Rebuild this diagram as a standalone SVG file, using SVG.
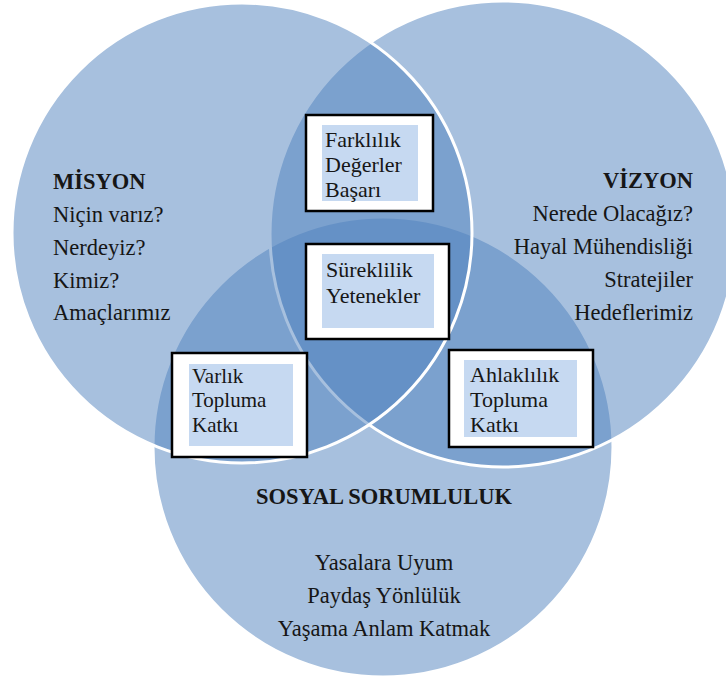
<svg xmlns="http://www.w3.org/2000/svg" width="726" height="678" viewBox="0 0 726 678">
<style>
.c{fill:#4F81BD;fill-opacity:0.5;stroke:#FFFFFF;stroke-width:3}
.t{font-size:22.5px;fill:#161616}
.h{font-weight:bold}
.bo{fill:#FFFFFF;stroke:#000000;stroke-width:2.5}
.bi{fill:#C6D9F1}
.bt{font-size:22px;fill:#161616}
</style>
<rect width="726" height="678" fill="#FFFFFF"/>
<g font-family="'Liberation Serif', 'Times New Roman', Times, 'DejaVu Serif', serif">
<g id="sosyal-sorumluluk">
<circle class="c" cx="383" cy="447" r="230"/>
<text class="t h" x="384" y="504" text-anchor="middle">SOSYAL SORUMLULUK</text>
<text class="t" x="384" y="570" text-anchor="middle">Yasalara Uyum</text>
<text class="t" x="384" y="603" text-anchor="middle">Paydaş Yönlülük</text>
<text class="t" x="384" y="636" text-anchor="middle">Yaşama Anlam Katmak</text>
</g>
<g id="vizyon">
<circle class="c" cx="503" cy="234" r="233"/>
<text class="t h" x="693" y="188" text-anchor="end">VİZYON</text>
<text class="t" x="693" y="221" text-anchor="end">Nerede Olacağız?</text>
<text class="t" x="693" y="254" text-anchor="end">Hayal Mühendisliği</text>
<text class="t" x="693" y="287" text-anchor="end">Stratejiler</text>
<text class="t" x="693" y="320" text-anchor="end">Hedeflerimiz</text>
</g>
<g id="misyon">
<circle class="c" cx="242" cy="233" r="230"/>
<text class="t h" x="53" y="189">MİSYON</text>
<text class="t" x="53" y="222">Niçin varız?</text>
<text class="t" x="53" y="255">Nerdeyiz?</text>
<text class="t" x="53" y="288">Kimiz?</text>
<text class="t" x="53" y="320">Amaçlarımız</text>
</g>
<g id="box-farklilik">
<rect class="bo" x="306" y="115" width="127" height="96"/>
<rect class="bi" x="322" y="125" width="96" height="76"/>
<text class="bt" x="325" y="147">Farklılık</text>
<text class="bt" x="325" y="172">Değerler</text>
<text class="bt" x="325" y="197">Başarı</text>
</g>
<g id="box-sureklilik">
<rect class="bo" x="306" y="244" width="143" height="95"/>
<rect class="bi" x="322" y="254" width="112" height="74"/>
<text class="bt" x="326" y="277">Süreklilik</text>
<text class="bt" x="326" y="303">Yetenekler</text>
</g>
<g id="box-varlik">
<rect class="bo" x="172" y="353" width="135" height="104"/>
<rect class="bi" x="189" y="364" width="104" height="82"/>
<text class="bt" x="192" y="383" style="font-size:21px">Varlık</text>
<text class="bt" x="192" y="407" style="font-size:21px">Topluma</text>
<text class="bt" x="192" y="432" style="font-size:21px">Katkı</text>
</g>
<g id="box-ahlaklilik">
<rect class="bo" x="449" y="350" width="144" height="97"/>
<rect class="bi" x="464" y="360" width="113" height="77"/>
<text class="bt" x="470" y="382">Ahlaklılık</text>
<text class="bt" x="470" y="407">Topluma</text>
<text class="bt" x="470" y="432">Katkı</text>
</g>
</g>
</svg>
